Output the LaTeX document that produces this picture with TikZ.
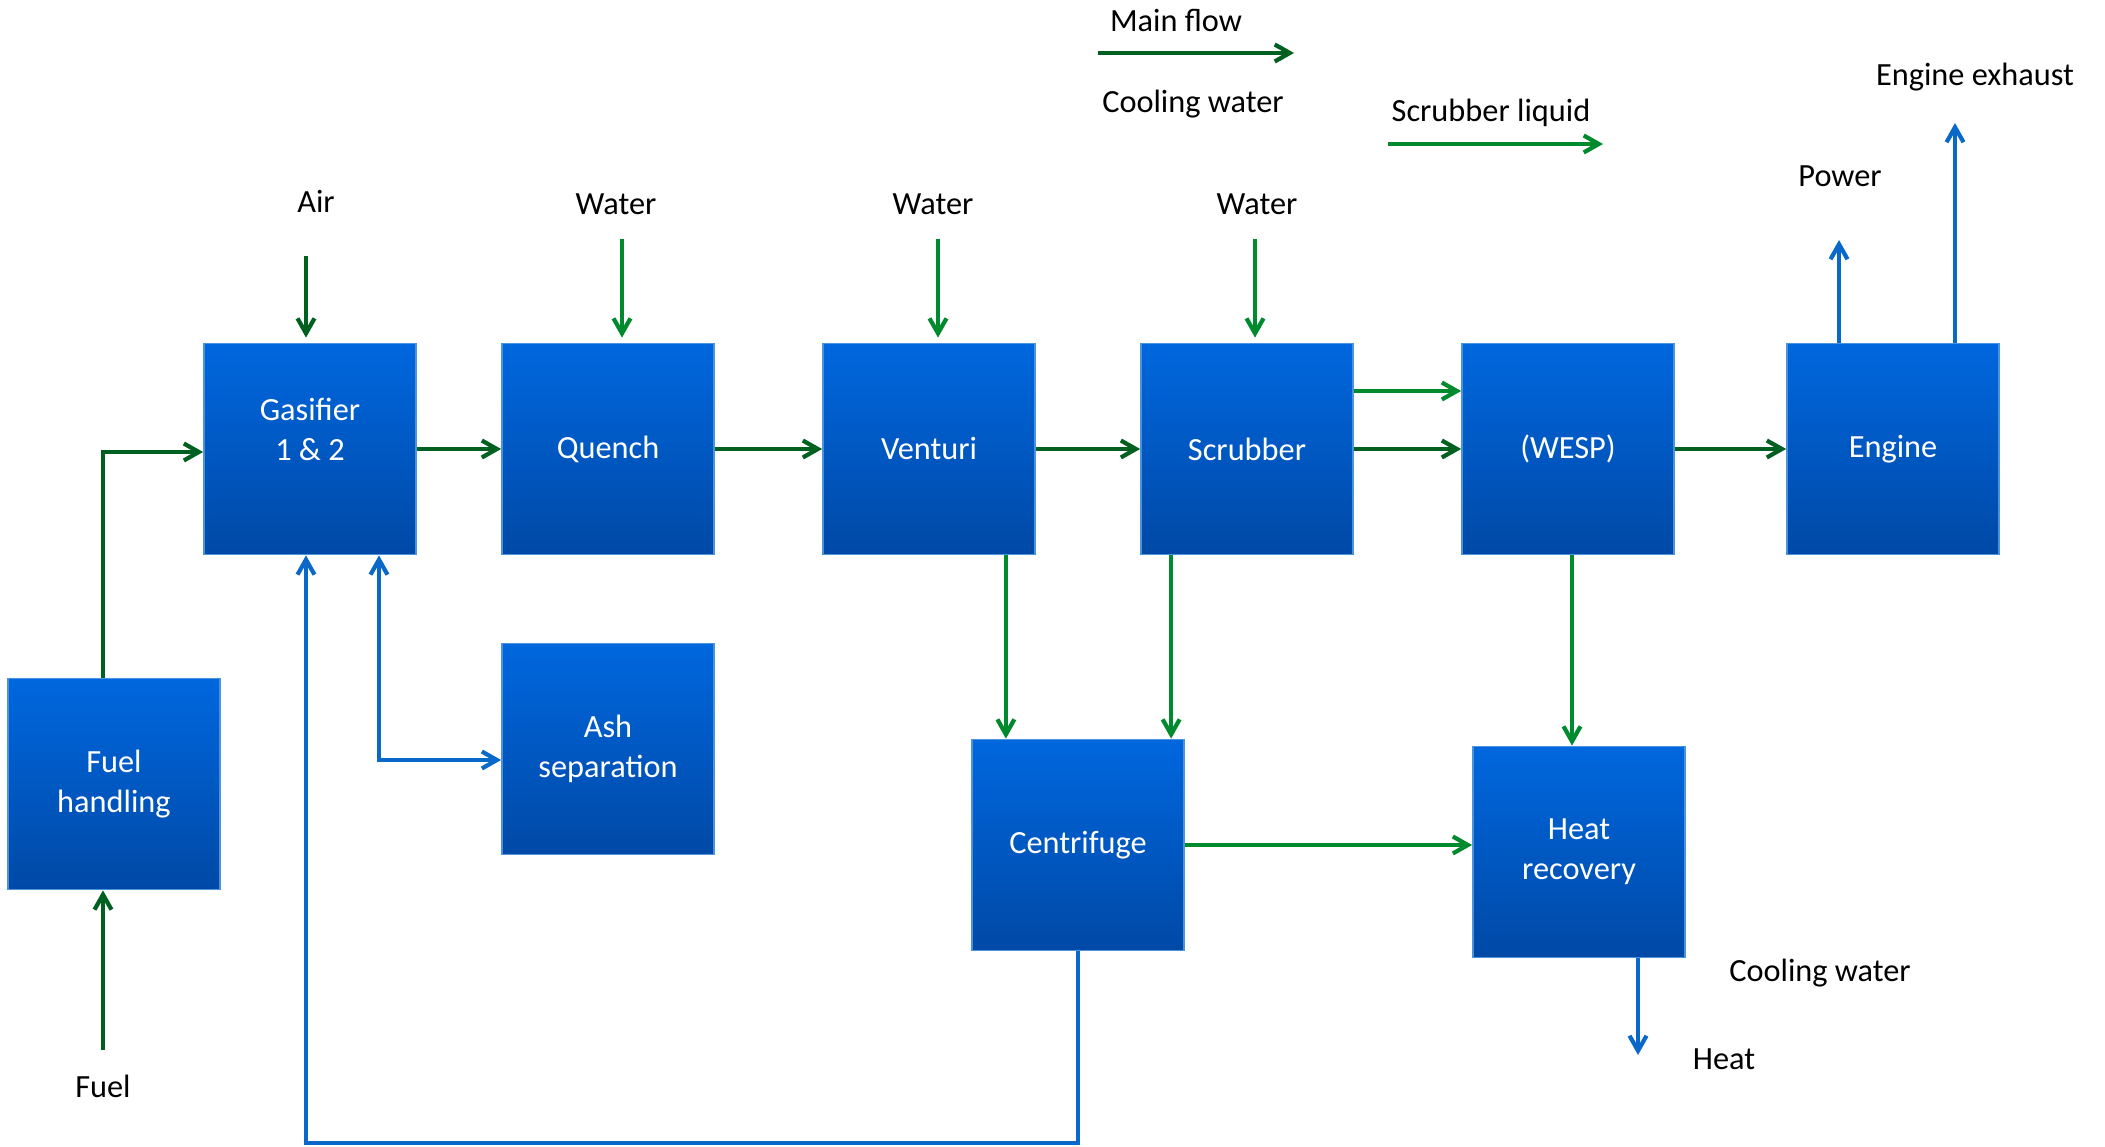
\documentclass[tikz,border=0pt]{standalone}
\usepackage{fontspec}
\setmainfont{Carlito}
\usetikzlibrary{arrows.meta,calc}

\definecolor{flowgreen}{HTML}{00601F}
\definecolor{liqgreen}{HTML}{008A2E}
\definecolor{coolblue}{HTML}{0A68C9}
\definecolor{boxtop}{HTML}{0067DE}
\definecolor{boxbot}{HTML}{0049A6}
\definecolor{boxedge}{HTML}{4B93DC}

\begin{document}
\begin{tikzpicture}[barb/.tip={Straight Barb[length=1.5mm,width=1.7mm]},
  unit/.style={rectangle,draw=boxedge,line width=0.5pt,top color=boxtop,bottom color=boxbot,text=white,minimum width=2.12cm,minimum height=2.11cm,inner sep=0pt,align=center,font=\fontsize{9.2}{11.4}\selectfont},
  lbl/.style={font=\fontsize{9.2}{11.4}\selectfont,inner sep=0pt,text height=0.2cm,text depth=0pt},
  mainflow/.style={draw=flowgreen,line width=1.2pt,-barb},
  liquid/.style={draw=liqgreen,line width=1.2pt,-barb},
  coolflow/.style={draw=coolblue,line width=1.2pt,-barb}]

  \useasboundingbox (0,0) rectangle (21.05,-11.47);

% process units
  \node [unit] (gasifier) at (3.10,-4.49) {Gasifier\\1 \& 2\\\mbox{}};
  \node [unit] (quench) at (6.08,-4.49) {Quench};
  \node [unit] (venturi) at (9.29,-4.49) {Venturi};
  \node [unit] (scrubber) at (12.47,-4.49) {Scrubber};
  \node [unit] (wesp) at (15.68,-4.49) {(WESP)};
  \node [unit] (engine) at (18.93,-4.49) {Engine};
  \node [unit] (fuelh) at (1.14,-7.84) {Fuel\\handling};
  \node [unit] (ash) at (6.08,-7.49) {Ash\\separation};
  \node [unit] (centrifuge) at (10.78,-8.45) {Centrifuge};
  \node [unit] (heatrec) at (15.79,-8.52) {Heat\\recovery};

% texts
  \node [lbl] (mainlbl) at (11.76,-0.22) {Main flow};
  \node [lbl] (coollbl) at (11.93,-1.03) {Cooling water};
  \node [lbl] (liqlbl) at (14.91,-1.12) {Scrubber liquid};
  \node [lbl] (air) at (3.16,-2.03) {Air};
  \foreach \i/\x in {1/6.16,2/9.33,3/12.57}
    \node [lbl] (water\i) at (\x,-2.05) {Water};
  \node [lbl] (exhaust) at (19.75,-0.76) {Engine exhaust};
  \node [lbl] (power) at (18.40,-1.77) {Power};
  \node [lbl] (coolout) at (18.20,-9.715) {Cooling water};
  \node [lbl] (heat) at (17.24,-10.59) {Heat};
  \node [lbl] (fuel) at (1.03,-10.87) {Fuel};

% free ends
  \coordinate (mf1) at (10.98,-0.53);
  \coordinate (mf2) at (12.94,-0.53);
  \coordinate (sl1) at (13.88,-1.44);
  \coordinate (sl2) at (16.03,-1.44);
  \coordinate (airin) at (3.06,-2.56);
  \coordinate (win1) at (6.22,-2.39);
  \coordinate (win2) at (9.38,-2.39);
  \coordinate (win3) at (12.55,-2.39);
  \coordinate (fuelin) at (1.03,-10.50);
  \coordinate (powerout) at (18.39,-2.40);
  \coordinate (exhaustout) at (19.55,-1.23);
  \coordinate (heatout) at (16.38,-10.55);
  \coordinate (vout) at ([xshift=-3mm]venturi.south east);
  \coordinate (sout) at ([xshift=3.1mm]scrubber.south west);
  \coordinate (wout) at ([xshift=0.4mm]wesp.south);
  \coordinate (gash) at ([xshift=6.9mm]gasifier.south);

% legend
  \draw [mainflow] (mf1) -- (mf2);
  \draw [liquid] (sl1) -- (sl2);

% main line
  \draw [mainflow,shorten >=0.5mm] (airin) -- (airin |- gasifier.north);
  \foreach \i in {1,2,3}
    \draw [liquid,shorten >=0.5mm] (win\i) -- (win\i |- gasifier.north);
  \foreach \a/\b in {gasifier/quench,quench/venturi,venturi/scrubber,scrubber/wesp,wesp/engine}
    \draw [mainflow] (\a) -- (\b);
  \draw [liquid] ([yshift=5.8mm]scrubber.east) -- ([yshift=5.8mm]wesp.west);
  \draw [mainflow] ([xshift=-1.1mm]fuelh.north) |- ([yshift=-0.3mm]gasifier.west);
  \draw [mainflow] (fuelin) -- (fuelin |- fuelh.south);

% scrubber liquid
  \draw [liquid] (vout) -- (vout |- centrifuge.north);
  \draw [liquid] (sout) -- (sout |- centrifuge.north);
  \draw [liquid] (wout) -- (wout |- heatrec.north);
  \draw [liquid] (centrifuge.east) -- (centrifuge.east -| heatrec.west);

% blue lines
  \draw [coolflow,barb-barb] ([yshift=-1.1mm]ash.west) -| (gash);
  \draw [coolflow] (centrifuge.south) -- ++(0,-1.92) -| ([xshift=-0.4mm]gasifier.south);
  \draw [coolflow] (powerout |- engine.north) -- (powerout);
  \draw [coolflow] (exhaustout |- engine.north) -- (exhaustout);
  \draw [coolflow] (heatout |- heatrec.south) -- (heatout);

\end{tikzpicture}
\end{document}
